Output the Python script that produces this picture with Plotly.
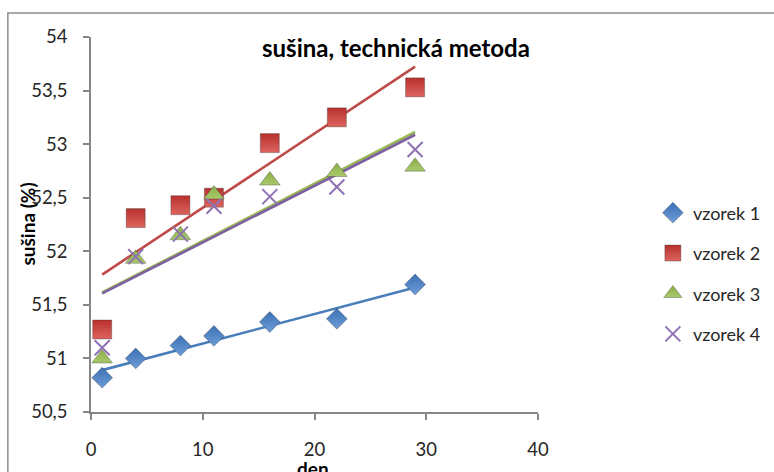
import numpy as np
import plotly.graph_objects as go

# Sampling days
den = [1, 4, 8, 11, 16, 22, 29]

# Dry matter (%) per sample
vzorek_1 = [50.82, 51.00, 51.12, 51.21, 51.34, 51.37, 51.69]
vzorek_2 = [51.27, 52.31, 52.43, 52.50, 53.01, 53.25, 53.53]
vzorek_3 = [51.00, 51.93, 52.15, 52.53, 52.66, 52.74, 52.79]
vzorek_4 = [51.10, 51.95, 52.16, 52.42, 52.51, 52.60, 52.95]

names = ["vzorek 1", "vzorek 2", "vzorek 3", "vzorek 4"]
series = [vzorek_1, vzorek_2, vzorek_3, vzorek_4]

marker_colors = ["#3C70B4", "#B8302C", "#8AAE45", "#8E72B4"]
marker_light = ["#6E9ED8", "#DC6460", "#A9C96C", "#8E72B4"]
line_colors = ["#4A7EBB", "#BE4B48", "#98B954", "#7D60A0"]
symbols = ["diamond", "square", "triangle-up", "x-thin"]
sizes = [16, 19, 18, 15]

FONT = "Lato"

fig = go.Figure()

# Linear trendlines (least squares) over the sampled day range
for i, ys in enumerate(series):
    k, q = np.polyfit(den, ys, 1)
    xs = np.array([min(den), max(den)])
    fig.add_trace(go.Scatter(
        x=xs, y=k * xs + q, mode="lines",
        line=dict(color=line_colors[i], width=2.6),
        showlegend=False, hoverinfo="skip",
    ))

# Measured points
for i, ys in enumerate(series):
    if symbols[i] == "x-thin":
        marker = dict(symbol="x-thin", size=sizes[i],
                      line=dict(color=marker_colors[i], width=2))
    else:
        marker = dict(symbol=symbols[i], size=sizes[i], color=marker_colors[i],
                      gradient=dict(type="vertical", color=marker_light[i]),
                      line=dict(color="rgba(40,40,40,0.45)", width=0.7))
    fig.add_trace(go.Scatter(
        x=den, y=ys, mode="markers", name=names[i],
        marker=marker, legendgroup=names[i],
    ))

axis_color = "#868686"
tick_font = dict(family=FONT, size=18.5, color="#262626")

fig.update_layout(
    width=774, height=472,
    margin=dict(l=91, r=236, t=37, b=60, autoexpand=False),
    paper_bgcolor="white", plot_bgcolor="white",
    separators=", ",
    showlegend=True,
    legend=dict(
        x=1.257, y=0.58, xanchor="left", yanchor="top",
        font=dict(family=FONT, size=18, color="#262626"),
        itemwidth=30, tracegroupgap=14, traceorder="grouped",
        bgcolor="rgba(0,0,0,0)",
    ),
    xaxis=dict(
        range=[0, 40], dtick=10, showgrid=False, zeroline=False,
        showline=True, linecolor=axis_color, linewidth=1.5,
        ticks="outside", ticklen=6, tickcolor=axis_color, tickwidth=1.5,
        tickfont=tick_font, ticklabelstandoff=14, automargin=False,
    ),
    yaxis=dict(
        range=[50.5, 54], dtick=0.5, showgrid=False, zeroline=False,
        showline=True, linecolor=axis_color, linewidth=1.5,
        ticks="outside", ticklen=6, tickcolor=axis_color, tickwidth=1.5,
        tickfont=tick_font, ticklabelstandoff=12, automargin=False,
    ),
    annotations=[
        dict(text="<b>sušina, technická metoda</b>", x=0.682, y=0.973,
             xref="paper", yref="paper", xanchor="center", yanchor="middle",
             showarrow=False, font=dict(family=FONT, size=24, color="#000")),
        dict(text="<b>sušina (%)</b>", x=-0.143, y=0.5, textangle=-90,
             xref="paper", yref="paper", xanchor="center", yanchor="middle",
             showarrow=False, font=dict(family=FONT, size=19, color="#000")),
        dict(text="<b>den</b>", x=0.497, y=-0.151,
             xref="paper", yref="paper", xanchor="center", yanchor="middle",
             showarrow=False, font=dict(family=FONT, size=19, color="#000")),
    ],
    shapes=[dict(
        type="rect", xref="paper", yref="paper",
        x0=-0.186, x1=1.7, y0=-0.5, y1=1.064,
        line=dict(color="#8C8C8C", width=1.5), fillcolor="rgba(0,0,0,0)",
        layer="below",
    )],
)

fig.write_html("out.html")
